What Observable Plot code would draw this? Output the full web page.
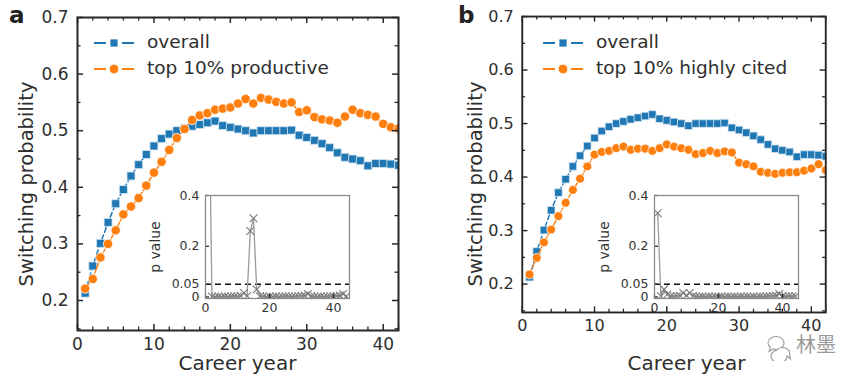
<!DOCTYPE html>
<html>
<head>
<meta charset="utf-8">
<script src="https://cdn.jsdelivr.net/npm/d3@7"></script>
<script src="https://cdn.jsdelivr.net/npm/@observablehq/plot@0.6"></script>
<style>
  html, body { margin: 0; padding: 0; background: #fff; }
  #root { position: relative; width: 865px; height: 385px; overflow: hidden; font-family: "DejaVu Sans", sans-serif; color: #333; background: #fff; }
  .abs { position: absolute; white-space: nowrap; line-height: 1.15; }
  .abs svg { display: block; }
</style>
</head>
<body>
<div id="root"></div>
<script>
// ---------- data ----------
const years = [1,2,3,4,5,6,7,8,9,10,11,12,13,14,15,16,17,18,19,20,21,22,23,24,25,26,27,28,29,30,31,32,33,34,35,36,37,38,39,40,41,42];

const overall = [0.213,0.261,0.301,0.338,0.371,0.396,0.420,0.440,0.458,0.473,0.486,0.494,0.500,0.504,0.508,0.511,0.514,0.517,0.509,0.506,0.503,0.500,0.496,0.500,0.500,0.500,0.500,0.501,0.492,0.488,0.483,0.477,0.470,0.461,0.453,0.450,0.447,0.438,0.442,0.442,0.441,0.439];

const topProductive = [0.221,0.238,0.276,0.300,0.324,0.352,0.366,0.381,0.403,0.426,0.445,0.466,0.487,0.503,0.519,0.527,0.531,0.537,0.539,0.541,0.548,0.556,0.548,0.558,0.555,0.551,0.548,0.550,0.533,0.536,0.524,0.520,0.518,0.514,0.525,0.537,0.531,0.528,0.525,0.512,0.506,0.504];

const topCited = [0.218,0.249,0.278,0.302,0.327,0.352,0.376,0.397,0.420,0.442,0.447,0.449,0.454,0.457,0.451,0.453,0.453,0.449,0.454,0.461,0.457,0.454,0.451,0.443,0.445,0.449,0.445,0.448,0.446,0.427,0.424,0.420,0.410,0.408,0.406,0.408,0.409,0.409,0.412,0.416,0.424,0.413];

const pYears = [1,2,3,4,5,6,7,8,9,10,11,12,13,14,15,16,17,18,19,20,21,22,23,24,25,26,27,28,29,30,31,32,33,34,35,36,37,38,39,40,41,42,43,44];

const pProductive = [0.95,0.002,0.001,0.002,0.001,0.002,0.001,0.002,0.003,0.002,0.004,0.016,0.004,0.26,0.31,0.03,0.003,0.002,0.001,0.002,0.001,0.002,0.001,0.002,0.003,0.002,0.001,0.002,0.003,0.004,0.006,0.012,0.004,0.002,0.001,0.002,0.001,0.002,0.003,0.002,0.004,0.006,0.012,0.003];

const pCited = [0.33,0.003,0.03,0.01,0.004,0.002,0.003,0.005,0.016,0.006,0.016,0.004,0.002,0.001,0.002,0.001,0.002,0.001,0.002,0.001,0.002,0.001,0.002,0.001,0.002,0.001,0.002,0.001,0.002,0.001,0.002,0.001,0.002,0.001,0.002,0.003,0.004,0.006,0.012,0.004,0.002,0.003,0.002,0.003];

const xMajor = [0,10,20,30,40];
const xMinor = [2,4,6,8,12,14,16,18,22,24,26,28,32,34,36,38,42];
const yMajor = [0.2,0.3,0.4,0.5,0.6,0.7];
const yMinor = [0.15,0.25,0.35,0.45,0.55,0.65];
const insetXTicks = [0,20,40];
const insetYTicks = [0,0.05,0.2,0.4];
const threshold = [0.05];

const seriesNames = ["overall", "top 10% productive", "top 10% highly cited"];
const panelLetters = ["a", "b"];
const xLabel = "Career year";
const yLabel = "Switching probability";
const insetYLabel = "p value";
const watermark = "林墨";

const BLUE = "#1f77b4", ORANGE = "#ff7f0e";
const FRAME = "#262626";

const root = document.getElementById("root");

function place(node, left, top) {
  const d = document.createElement("div");
  d.className = "abs";
  d.style.left = left + "px";
  d.style.top = top + "px";
  d.appendChild(node);
  root.appendChild(d);
  return d;
}
function text(str, left, top, css) {
  const d = document.createElement("div");
  d.className = "abs";
  d.textContent = str;
  d.style.left = left + "px";
  d.style.top = top + "px";
  Object.assign(d.style, css || {});
  root.appendChild(d);
  return d;
}

// inward tick rules; lengths given in pixels and converted with the plot's frame size
function tickRules(vals, side, xDom, yDom, fw, fh, len, sw) {
  const kx = (xDom[1] - xDom[0]) / fw, ky = (yDom[1] - yDom[0]) / fh;
  const o = {stroke: FRAME, strokeWidth: sw};
  if (side === "bottom") return Plot.ruleX(vals, {x: d => d, y1: yDom[0], y2: yDom[0] + len * ky, ...o});
  if (side === "top") return Plot.ruleX(vals, {x: d => d, y1: yDom[1], y2: yDom[1] - len * ky, ...o});
  if (side === "left") return Plot.ruleY(vals, {y: d => d, x1: xDom[0], x2: xDom[0] + len * kx, ...o});
  return Plot.ruleY(vals, {y: d => d, x1: xDom[1], x2: xDom[1] - len * kx, ...o});
}

function mainPanel(other) {
  const rows = years.map((x, i) => ({x, overall: overall[i], other: other[i]}));
  const W = 440, H = 385, ml = 77, mr = 42, mt = 17, mb = 55;
  const xDom = [0, 42], yDom = [0.147, 0.7];
  const fw = W - ml - mr, fh = H - mt - mb;
  const T = (v, s, l, w) => tickRules(v, s, xDom, yDom, fw, fh, l, w);
  return Plot.plot({
    width: W, height: H,
    marginLeft: ml, marginRight: mr, marginTop: mt, marginBottom: mb,
    x: {domain: xDom},
    y: {domain: yDom},
    style: {fontFamily: "'DejaVu Sans', sans-serif", fontSize: "17px", color: "#2e2e2e", background: "transparent", overflow: "visible"},
    marks: [
      Plot.lineY(rows, {x: "x", y: "overall", stroke: BLUE, strokeWidth: 1.5, strokeDasharray: "5,3", clip: true}),
      Plot.dot(rows, {x: "x", y: "overall", symbol: "square", r: 4.5, fill: BLUE, stroke: "#d6e6f3", strokeWidth: 0.8, clip: true}),
      Plot.lineY(rows, {x: "x", y: "other", stroke: ORANGE, strokeWidth: 1.5, strokeDasharray: "6,2,1.5,2", clip: true}),
      Plot.dot(rows, {x: "x", y: "other", symbol: "circle", r: 4.7, fill: ORANGE, stroke: "#fff", strokeWidth: 0.8, clip: true}),
      Plot.axisX(xMajor, {anchor: "bottom", tickSize: 0, tickPadding: 7, label: null, fontSize: 17}),
      Plot.axisY(yMajor, {anchor: "left", tickSize: 0, tickPadding: 9, tickFormat: d => d.toFixed(1), label: null, fontSize: 17}),
      T(xMajor, "bottom", 6, 1.5), T(xMinor, "bottom", 3.5, 1.3),
      T(xMajor, "top", 6, 1.5), T(xMinor, "top", 3.5, 1.3),
      T(yMajor, "left", 6, 1.5), T(yMinor, "left", 3.5, 1.3),
      T(yMajor, "right", 6, 1.5), T(yMinor, "right", 3.5, 1.3),
      Plot.frame({stroke: FRAME, strokeWidth: 2})
    ]
  });
}

function insetPanel(p) {
  const rows = pYears.map((x, i) => ({x, p: p[i]}));
  const W = 220, H = 145, ml = 65, mr = 11, mt = 15, mb = 27;
  const xDom = [0, 45], yDom = [-0.006, 0.4];
  const fw = W - ml - mr, fh = H - mt - mb;
  const T = (v, s, l, w) => tickRules(v, s, xDom, yDom, fw, fh, l, w);
  return Plot.plot({
    width: W, height: H,
    marginLeft: ml, marginRight: mr, marginTop: mt, marginBottom: mb,
    x: {domain: xDom},
    y: {domain: yDom},
    style: {fontFamily: "'DejaVu Sans', sans-serif", fontSize: "12.5px", color: "#333", background: "transparent", overflow: "visible"},
    marks: [
      Plot.frame({fill: "#fff", stroke: "none"}),
      Plot.ruleY(threshold, {stroke: "#111", strokeWidth: 1.6, strokeDasharray: "6,4"}),
      Plot.lineY(rows, {x: "x", y: "p", stroke: "#9a9a9a", strokeWidth: 1.3, clip: true}),
      Plot.dot(rows, {x: "x", y: "p", symbol: "times", r: 3.6, stroke: "#7a7a7a", strokeWidth: 1.1, clip: true}),
      Plot.axisY(insetYTicks, {anchor: "left", tickSize: 0, tickPadding: 6, tickFormat: d => String(d), label: null, fontSize: 12.5}),
      Plot.axisX(insetXTicks, {anchor: "bottom", tickSize: 0, tickPadding: 5, label: null, fontSize: 12.5}),
      T(insetYTicks, "left", 4, 1.3),
      T(insetXTicks, "bottom", 4, 1.3),
      Plot.frame({stroke: "#8a8a8a", strokeWidth: 1.3})
    ]
  });
}

function legendGlyph(color, symbol) {
  const ns = "http://www.w3.org/2000/svg";
  const s = document.createElementNS(ns, "svg");
  s.setAttribute("width", "44"); s.setAttribute("height", "16");
  const l = document.createElementNS(ns, "line");
  l.setAttribute("x1", "2"); l.setAttribute("x2", "42"); l.setAttribute("y1", "8"); l.setAttribute("y2", "8");
  l.setAttribute("stroke", color); l.setAttribute("stroke-width", "1.8");
  l.setAttribute("stroke-dasharray", "12,16,12");
  s.appendChild(l);
  const g = document.createElementNS(ns, "path");
  g.setAttribute("transform", "translate(22,8)");
  g.setAttribute("d", d3.symbol(symbol === "square" ? d3.symbolSquare : d3.symbolCircle, symbol === "square" ? 64 : 72)());
  g.setAttribute("fill", color);
  g.setAttribute("stroke", "#fff"); g.setAttribute("stroke-width", "0.8");
  s.appendChild(g);
  return s;
}

const panels = [
  {off: 0, other: topProductive, name: seriesNames[1], pv: pProductive},
  {off: 449, other: topCited, name: seriesNames[2], pv: pCited}
];

panels.forEach((pn, k) => {
  place(mainPanel(pn.other), pn.off, 0);
  place(insetPanel(pn.pv), pn.off + 140, 180);
  text(panelLetters[k], pn.off + 9, 2, {fontSize: "23px", fontWeight: "bold", color: "#222"});
  text(xLabel, pn.off + 77, 352, {width: "321px", textAlign: "center", fontSize: "20px", color: "#2e2e2e"});
  text(yLabel, pn.off + 27, 184, {fontSize: "19.5px", color: "#2e2e2e", transform: "translate(-50%,-50%) rotate(-90deg)"});
  text(insetYLabel, pn.off + 155, 247, {fontSize: "14px", transform: "translate(-50%,-50%) rotate(-90deg)"});
  place(legendGlyph(BLUE, "square"), pn.off + 92, 35);
  text(seriesNames[0], pn.off + 147, 31, {fontSize: "18.5px", color: "#2e2e2e"});
  place(legendGlyph(ORANGE, "circle"), pn.off + 92, 61);
  text(pn.name, pn.off + 147, 57, {fontSize: "18.5px", color: "#2e2e2e"});
});

// watermark (logo bubbles + text)
(function () {
  const ns = "http://www.w3.org/2000/svg";
  const s = document.createElementNS(ns, "svg");
  s.setAttribute("width", "30"); s.setAttribute("height", "28");
  const big = document.createElementNS(ns, "path");
  big.setAttribute("d", "M4,10 a8,6.5 0 1 1 5,6 l-4,2.5 l1.5,-4 a7,6 0 0 1 -2.5,-4.5 z");
  big.setAttribute("fill", "#fff"); big.setAttribute("stroke", "#9a9a9a"); big.setAttribute("stroke-width", "1.1");
  s.appendChild(big);
  const small = document.createElementNS(ns, "path");
  small.setAttribute("d", "M13,17 a8,6.5 0 1 0 10,6 l3.5,3 l-1,-4.5 a7,6 0 0 0 -12.5,-4.5 z");
  small.setAttribute("fill", "#fff"); small.setAttribute("stroke", "#9a9a9a"); small.setAttribute("stroke-width", "1.1");
  s.appendChild(small);
  place(s, 764, 333);
})();
text(watermark, 796, 332, {fontFamily: "'Noto Sans CJK SC', sans-serif", fontSize: "20px", color: "#999", textShadow: "0 0 2px #fff, 0 0 3px #fff, 0 0 4px #fff"});
</script>
</body>
</html>
